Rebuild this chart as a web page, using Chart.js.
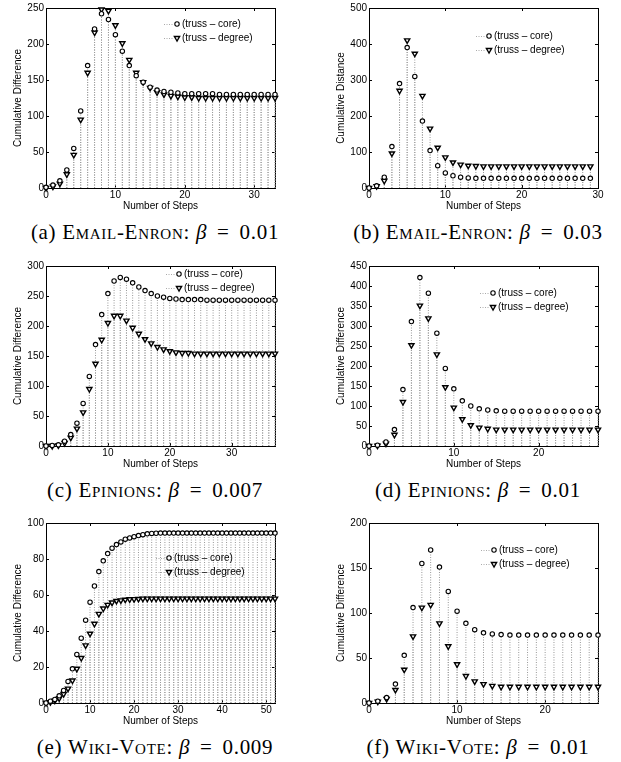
<!DOCTYPE html>
<html lang="en">
<head>
<meta charset="UTF-8" />
<title>Cumulative difference vs number of steps</title>
<script src="https://cdn.jsdelivr.net/npm/chart.js"></script>
<style>
  body { margin: 0; background: #fff; }
  .page { position: relative; width: 621px; height: 762px; overflow: hidden; background: #fff; }
  .page canvas { position: absolute; }
  .caption {
    position: absolute; width: 330px; text-align: center;
    font-family: "Liberation Serif", "Times New Roman", serif;
    font-size: 21px; line-height: 24px; color: #000; white-space: nowrap;
    letter-spacing: 0.7px;
  }
  .sc { font-variant: small-caps; }
  .eq { margin: 0 4px; }
</style>
</head>
<body>
<div class="page">
  <canvas id="chartA" width="300" height="215" style="left:0;top:0"></canvas>
  <canvas id="chartB" width="300" height="215" style="left:323px;top:0"></canvas>
  <canvas id="chartC" width="300" height="215" style="left:0;top:258px"></canvas>
  <canvas id="chartD" width="300" height="215" style="left:323px;top:258px"></canvas>
  <canvas id="chartE" width="300" height="215" style="left:0;top:515px"></canvas>
  <canvas id="chartF" width="300" height="215" style="left:323px;top:515px"></canvas>

  <div class="caption" style="left:-10px;top:220px">(a) <span class="sc">Email-Enron</span>: <i>β</i> <span class="eq">=</span> 0.01</div>
  <div class="caption" style="left:313px;top:220px">(b) <span class="sc">Email-Enron</span>: <i>β</i> <span class="eq">=</span> 0.03</div>
  <div class="caption" style="left:-10px;top:478px">(c) <span class="sc">Epinions</span>: <i>β</i> <span class="eq">=</span> 0.007</div>
  <div class="caption" style="left:313px;top:478px">(d) <span class="sc">Epinions</span>: <i>β</i> <span class="eq">=</span> 0.01</div>
  <div class="caption" style="left:-10px;top:735px">(e) <span class="sc">Wiki-Vote</span>: <i>β</i> <span class="eq">=</span> 0.009</div>
  <div class="caption" style="left:313px;top:735px">(f) <span class="sc">Wiki-Vote</span>: <i>β</i> <span class="eq">=</span> 0.01</div>
</div>

<script>
  // values per step (index = number of steps)
  const coreA   = [1, 4, 10, 25, 55, 107, 170, 221, 242, 234, 213, 190, 170, 156, 147, 140, 136, 134, 133, 132,
                   131, 131, 131, 131, 131, 130, 130, 130, 130, 130, 130, 130, 130, 130];
  const degreeA = [0, 2, 6, 19, 46, 95, 160, 216, 248, 246, 226, 201, 178, 160, 147, 139, 133, 130, 128, 127,
                   126, 126, 125, 125, 125, 125, 125, 125, 125, 125, 125, 125, 125, 125];

  const coreB   = [0, 6, 30, 115, 290, 390, 310, 186, 104, 62, 42, 34, 30, 28,
                   27, 27, 27, 27, 27, 27, 27, 27, 27, 27, 27, 27, 27, 27, 27, 27];
  const degreeB = [0, 5, 20, 96, 270, 410, 373, 256, 165, 112, 85, 71, 65, 62,
                   61, 60, 60, 60, 60, 60, 60, 60, 60, 60, 60, 60, 60, 60, 60, 60];

  const coreC   = [0, 1, 2, 8, 19, 38, 71, 116, 169, 219, 254, 275, 281, 278, 272, 265, 259, 254, 250, 248, 246, 245,
                   244, 244, 244, 244, 243, 243, 243, 243, 243, 243, 243, 243, 243, 243, 243, 243];
  const degreeC = [0, 0, 1, 5, 14, 29, 56, 95, 137, 177, 205, 217, 217, 209, 197, 187, 178, 171, 165, 161, 158, 156, 155, 155,
                   154, 154, 154, 154, 154, 154, 154, 154, 154, 154, 154, 154, 154, 154];

  const coreD   = [0, 2, 10, 41, 141, 311, 421, 382, 282, 194, 143, 113, 100, 93, 90, 88,
                   87, 87, 87, 87, 87, 87, 87, 87, 87, 87, 87, 87];
  const degreeD = [0, 1, 6, 28, 110, 252, 351, 319, 229, 147, 96, 67, 52, 46, 43,
                   41, 41, 41, 41, 41, 41, 41, 41, 41, 41, 41, 41, 41];

  const coreE   = [0, 1, 2, 4, 7, 12, 19, 27, 36, 46, 56, 65, 73, 79, 83, 86, 88, 89.5, 91, 91.7, 92.4, 93, 93.5, 94,
                   94.2, 94.3, 94.4, 94.4, 94.4, 94.4, 94.4, 94.4, 94.4, 94.4, 94.4, 94.4, 94.4, 94.4, 94.4, 94.4,
                   94.4, 94.4, 94.4, 94.4, 94.4, 94.4, 94.4, 94.4, 94.4, 94.4, 94.4, 94.4, 94.4];
  const degreeE = [0, 0.5, 1.3, 2.6, 5, 8, 12.5, 19, 25, 32, 38.5, 44, 49.5, 52.5, 54.5, 55.8, 56.7, 57, 57.4, 57.6, 57.7, 57.8,
                   58, 58, 58, 58, 58, 58, 58, 58, 58, 58, 58, 58, 58, 58, 58, 58, 58, 58, 58, 58,
                   58, 58, 58, 58, 58, 58, 58, 58, 58, 58, 58];

  const coreF   = [0, 2, 6, 21, 53, 106, 155, 170, 151, 124, 102, 88.5, 81.5, 78, 76.7, 76, 75.5,
                   75.5, 75.5, 75.5, 75.5, 75.5, 75.5, 75.5, 75.5, 75.5, 75.5];
  const degreeF = [0, 1.5, 4.5, 14.5, 37, 74, 106, 109, 88.5, 63, 43, 30, 24, 21, 19, 18,
                   18, 18, 18, 18, 18, 18, 18, 18, 18, 18, 18];

  // tick labels
  const xTicksA = [0, 10, 20, 30];
  const xTicksB = [0, 10, 20, 30];
  const xTicksC = [0, 10, 20, 30];
  const xTicksD = [0, 10, 20];
  const xTicksE = [0, 10, 20, 30, 40, 50];
  const xTicksF = [0, 10, 20];
  const yTicksA = [0, 50, 100, 150, 200, 250];
  const yTicksB = [0, 100, 200, 300, 400, 500];
  const yTicksC = [0, 50, 100, 150, 200, 250, 300];
  const yTicksD = [0, 50, 100, 150, 200, 250, 300, 350, 400, 450];
  const yTicksE = [0, 20, 40, 60, 80, 100];
  const yTicksF = [0, 50, 100, 150, 200];

  const seriesLabels = ['(truss \u2013 core)', '(truss \u2013 degree)'];

  Chart.defaults.font.family = '"Liberation Sans", Arial, Helvetica, sans-serif';
  Chart.defaults.font.size = 10;
  Chart.defaults.color = '#000';

  const coreStyle   = { pointStyle: 'circle', radius: 2.2, rotation: 0, borderWidth: 1.1 };
  const degreeStyle = { pointStyle: 'triangle', radius: 3, rotation: 180, borderWidth: 1.4 };

  const points = vals => vals.map((v, i) => ({ x: i, y: v }));
  function stems(vals) {
    const pts = [];
    vals.forEach((v, i) => pts.push({ x: i, y: 0 }, { x: i, y: v }, { x: i, y: null }));
    return pts;
  }

  // box, inward ticks (matlab look) and legend
  const framePlugin = {
    id: 'frame',
    beforeDatasetsDraw(chart) {
      const { ctx, chartArea: a, scales: { x, y } } = chart;
      ctx.save();
      ctx.strokeStyle = '#000';
      ctx.lineWidth = 1;
      ctx.strokeRect(Math.round(a.left) + 0.5, Math.round(a.top) + 0.5,
                     Math.round(a.width), Math.round(a.height));
      ctx.beginPath();
      x.ticks.forEach(t => {
        const px = Math.round(x.getPixelForValue(t.value)) + 0.5;
        ctx.moveTo(px, a.bottom); ctx.lineTo(px, a.bottom - 3);
        ctx.moveTo(px, a.top); ctx.lineTo(px, a.top + 3);
      });
      y.ticks.forEach(t => {
        const py = Math.round(y.getPixelForValue(t.value)) + 0.5;
        ctx.moveTo(a.left, py); ctx.lineTo(a.left + 3, py);
        ctx.moveTo(a.right, py); ctx.lineTo(a.right - 3, py);
      });
      ctx.stroke();
      ctx.restore();
    },
    afterDatasetsDraw(chart, args, opts) {
      const { ctx, chartArea: a } = chart;
      const mx = a.right - opts.dx;
      const rows = [a.top + opts.dy, a.top + opts.dy + 14];
      const styles = [coreStyle, degreeStyle];
      ctx.save();
      rows.forEach((ry, k) => {
        ctx.strokeStyle = '#aaa';
        ctx.lineWidth = 1;
        ctx.setLineDash([1, 1.5]);
        ctx.beginPath();
        ctx.moveTo(mx - 13, Math.round(ry) + 0.5);
        ctx.lineTo(mx - 3, Math.round(ry) + 0.5);
        ctx.stroke();
        ctx.setLineDash([]);
        ctx.fillStyle = '#fff';
        ctx.strokeStyle = '#000';
        ctx.lineWidth = styles[k].borderWidth;
        Chart.helpers.drawPoint(ctx, styles[k], mx, ry);
        ctx.fillStyle = '#000';
        ctx.font = '10px "Liberation Sans", Arial, sans-serif';
        ctx.textAlign = 'left';
        ctx.textBaseline = 'middle';
        ctx.fillText(seriesLabels[k], mx + 5, ry);
      });
      ctx.restore();
    }
  };

  function makeChart(id, core, degree, xTicks, yTicks, xMax, yTitle, legendPos) {
    const fixTicks = list => scale => { scale.ticks = list.map(v => ({ value: v })); };
    new Chart(document.getElementById(id), {
      type: 'scatter',
      data: {
        datasets: [
          {
            label: seriesLabels[0], data: points(core), order: 0, clip: false,
            pointStyle: coreStyle.pointStyle, pointRadius: coreStyle.radius,
            pointBorderWidth: coreStyle.borderWidth,
            pointBorderColor: '#000', pointBackgroundColor: '#fff'
          },
          {
            label: seriesLabels[1], data: points(degree), order: 0, clip: false,
            pointStyle: degreeStyle.pointStyle, pointRadius: degreeStyle.radius,
            pointRotation: degreeStyle.rotation, pointBorderWidth: degreeStyle.borderWidth,
            pointBorderColor: '#000', pointBackgroundColor: '#fff'
          },
          {
            data: stems(core), order: 1, showLine: true, pointRadius: 0, clip: false,
            borderColor: '#999', borderWidth: 1, borderDash: [1, 1.5]
          },
          {
            data: stems(degree), order: 1, showLine: true, pointRadius: 0, clip: false,
            borderColor: '#999', borderWidth: 1, borderDash: [1, 1.5]
          }
        ]
      },
      options: {
        responsive: false,
        animation: false,
        events: [],
        devicePixelRatio: 1,
        layout: { padding: { top: 7, right: 25, left: 0, bottom: 0 } },
        plugins: {
          legend: { display: false },
          tooltip: { enabled: false },
          frame: legendPos
        },
        scales: {
          x: {
            type: 'linear', min: 0, max: xMax,
            grid: { display: false, drawTicks: false },
            border: { display: false },
            afterBuildTicks: fixTicks(xTicks),
            afterFit: s => { s.height = 27; },
            ticks: { padding: 1, maxRotation: 0 },
            title: { display: true, text: 'Number of Steps', padding: { top: 0, bottom: 3 } }
          },
          y: {
            type: 'linear', min: 0, max: yTicks[yTicks.length - 1],
            grid: { display: false, drawTicks: false },
            border: { display: false },
            afterBuildTicks: fixTicks(yTicks),
            afterFit: s => { s.width = 46; },
            ticks: { padding: 2 },
            title: { display: true, text: yTitle, padding: { top: 12, bottom: 0 } }
          }
        }
      },
      plugins: [framePlugin]
    });
  }

  makeChart('chartA', coreA, degreeA, xTicksA, yTicksA, 33, 'Cumulative Difference', { dx: 98, dy: 16 });
  makeChart('chartB', coreB, degreeB, xTicksB, yTicksB, 30, 'Cumulative Distance',   { dx: 109, dy: 28 });
  makeChart('chartC', coreC, degreeC, xTicksC, yTicksC, 37, 'Cumulative Difference', { dx: 96, dy: 8 });
  makeChart('chartD', coreD, degreeD, xTicksD, yTicksD, 27, 'Cumulative Difference', { dx: 105, dy: 27 });
  makeChart('chartE', coreE, degreeE, xTicksE, yTicksE, 52, 'Cumulative Difference', { dx: 106, dy: 35 });
  makeChart('chartF', coreF, degreeF, xTicksF, yTicksF, 26, 'Cumulative Difference', { dx: 104, dy: 27 });
</script>
</body>
</html>
